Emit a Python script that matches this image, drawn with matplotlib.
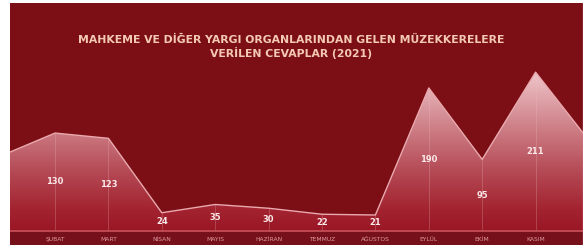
import numpy as np
import matplotlib
matplotlib.use("Agg")
import matplotlib.pyplot as plt
from matplotlib.colors import LinearSegmentedColormap

months = ["OCAK", "ŞUBAT", "MART", "NİSAN", "MAYIS", "HAZİRAN", "TEMMUZ",
          "AĞUSTOS", "EYLÜL", "EKİM", "KASIM", "ARALIK"]
values = [100, 130, 123, 24, 35, 30, 22, 21, 190, 95, 211, 120]
title = "MAHKEME VE DİĞER YARGI ORGANLARINDAN GELEN MÜZEKKERELERE\nVERİLEN CEVAPLAR (2021)"

BG = "#7c0f15"
W, H = 588, 249
fig = plt.figure(figsize=(W / 100, H / 100), dpi=100, facecolor="white")
ax = fig.add_axes([10 / W, 1 - 245 / H, (583 - 10) / W, (245 - 3) / H])
ax.set_facecolor(BG)

x = np.arange(len(values))
y = np.array(values, dtype=float)

x0 = (10 - 1.6) / 53.4
x1 = (583 - 1.6) / 53.4
ax.set_xlim(x0, x1)
ax.set_ylim(-18.9, 303)

# gradient fill clipped to area
cmap = LinearSegmentedColormap.from_list(
    "g", [(0.0, "#9a1626"), (0.12, "#a2232f"), (0.35, "#b44a55"),
          (0.6, "#cd7d85"), (0.85, "#e6b3b8"), (1.0, "#f2d3d5")])
grad = np.linspace(0, 1, 256).reshape(-1, 1)
poly = ax.fill_between(x, 0, y, color="none", lw=0)
im = ax.imshow(grad, extent=[-1, 12, 0, 225], origin="lower", aspect="auto",
               cmap=cmap, zorder=1)
im.set_clip_path(poly.get_paths()[0], transform=ax.transData)

ax.plot(x, y, color="#e9a9ae", lw=1.0, zorder=3)
ax.vlines(x, 0, y, color="#f0c0c4", lw=0.5, alpha=0.35, zorder=2)
ax.axhline(0, color="#c8535b", lw=1.2, zorder=3)
ax.axhspan(-18.9, 0, color="#76101a", zorder=0.5)

for xi, v in zip(x, values):
    if not (x0 + 0.3 < xi < x1 - 0.3):
        continue
    ax.text(xi, v / 2, str(v), ha="center", va="center", fontsize=6,
            fontweight="bold", color="#fbe9ea", zorder=4)
    ax.text(xi, -12, months[xi], ha="center", va="center", fontsize=4.3,
            color="#e29aa0", zorder=4)

ax.text(0.5 * (x0 + x1) - 0.1, 245, title, ha="center", va="center",
        fontsize=7.8, fontweight="bold", color="#f4c9b4", linespacing=1.2)

ax.set_xticks([])
ax.set_yticks([])
for s in ax.spines.values():
    s.set_visible(False)
ax.axvline(x1, color="#d98a90", lw=1.0, zorder=5)

fig.savefig("out.png", dpi=100, facecolor="white")
